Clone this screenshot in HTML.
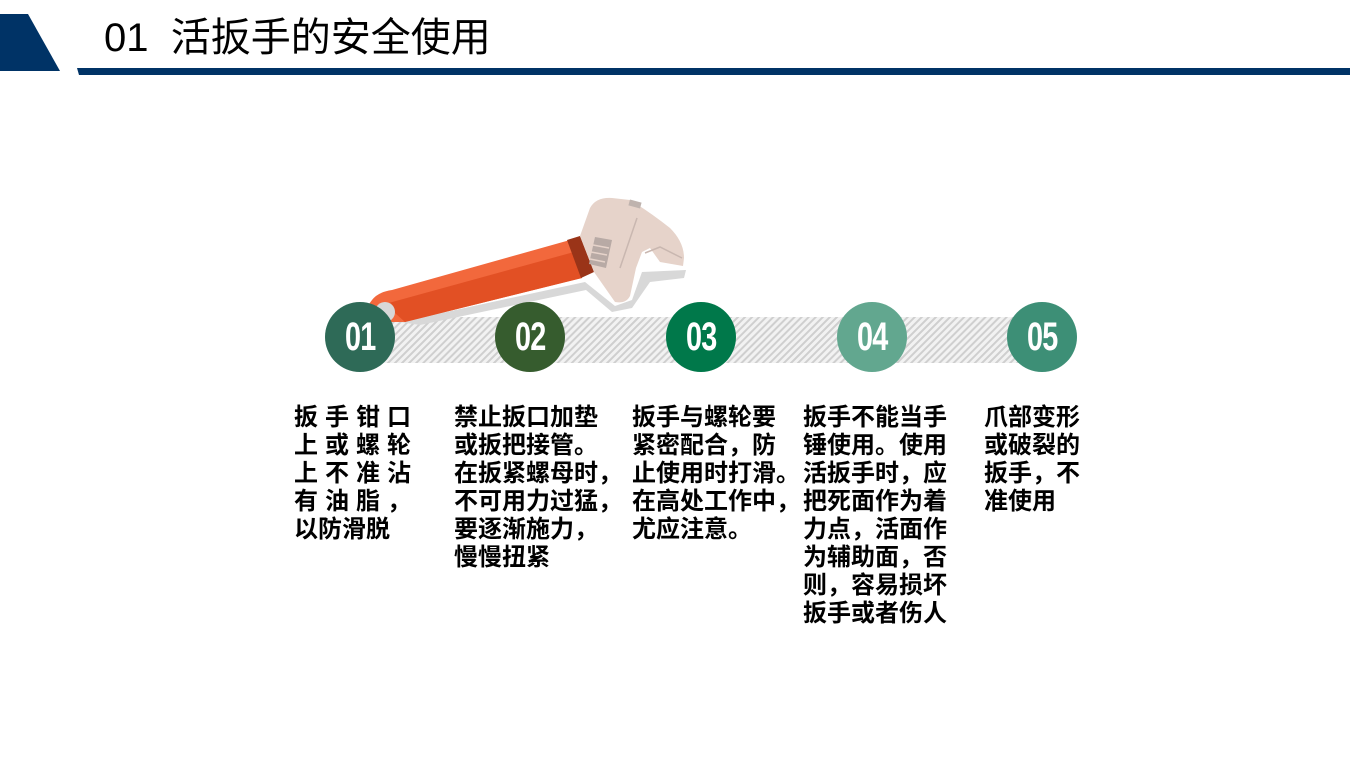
<!DOCTYPE html>
<html><head><meta charset="utf-8"><style>
body{margin:0;width:1350px;height:759px;background:#fff;position:relative;overflow:hidden;font-family:"Liberation Sans","Noto Sans CJK SC",sans-serif}
.t{position:absolute;font-size:24px;line-height:28px;font-weight:bold;color:#000;white-space:nowrap;top:404px}
.c{position:absolute;width:70px;height:70px;border-radius:50%;color:#fff;text-align:center;top:302px}
.c span{display:inline-block;font:bold 40px/70px "Liberation Sans",sans-serif;transform:scaleX(0.72);letter-spacing:-1px}
</style></head><body>
<svg width="1350" height="759" style="position:absolute;left:0;top:0">
<defs><pattern id="st" width="5" height="5" patternUnits="userSpaceOnUse" patternTransform="rotate(45)"><rect width="5" height="5" fill="#f2f2f2"/><rect width="2" height="5" fill="#cfcfcf"/></pattern></defs>
<polygon points="0,14 28,14 60,71 0,71" fill="#003366"/>
<polygon points="77,68 1350,68 1350,75 79,75" fill="#003366"/>
<rect x="360" y="317" width="685" height="46" fill="url(#st)"/>
<!-- wrench shadow -->
<polygon points="400,322 585,282 615,306 632,300 642,272 686,270 684,278 650,282 632,308 612,312 586,290 420,325" fill="#d8d8d8"/>
<!-- handle -->
<path d="M372,300 Q378,292 392,290 L570,240 L582,278 L405,322 L368,322 Q362,312 372,300Z" fill="#f2683c"/>
<path d="M385,304 L574,252 L582,278 L405,322 Z" fill="#e25024"/>
<circle cx="385" cy="312" r="10" fill="#d8d8d8"/>
<polygon points="567,240 580,236 594,272 581,278" fill="#9a3418"/>
<!-- head -->
<path d="M580,236 L590,208 Q596,197 612,198 L630,200 Q650,212 670,228 Q684,242 684,258 L683,266 L660,262 L650,248 L642,252 L636,268 L630,296 Q626,304 615,302 L594,272Z" fill="#e6d3ca"/>
<rect x="629" y="201" width="12" height="6" fill="#bfb3ae" transform="rotate(15 635 204)"/>
<polygon points="595,237 612,240 606,268 589,264" fill="#b8aaa5"/>
<g stroke="#e6d3ca" stroke-width="1.5"><line x1="593" y1="245" x2="609" y2="248"/><line x1="591" y1="252" x2="607" y2="255"/><line x1="590" y1="259" x2="605" y2="262"/></g>
<line x1="637" y1="218" x2="620" y2="268" stroke="#c9b7b0" stroke-width="1.5"/>
<polyline points="645,253 660,247 682,258" fill="none" stroke="#c9b7b0" stroke-width="1.5"/>
</svg>
<div style="position:absolute;left:104px;top:15px;font-size:40px;line-height:46px;color:#000">01&nbsp; 活扳手的安全使用</div>
<div class="c" style="left:325px;background:#2e6a57"><span>01</span></div>
<div class="c" style="left:495px;background:#365c2e"><span>02</span></div>
<div class="c" style="left:666px;background:#00784a"><span>03</span></div>
<div class="c" style="left:837px;background:#62a78f"><span>04</span></div>
<div class="c" style="left:1007px;background:#3d8f76"><span>05</span></div>
<div class="t" style="left:294px;letter-spacing:7px">扳手钳口<br>上或螺轮<br>上不准沾<br>有油脂，<br><span style="letter-spacing:0">以防滑脱</span></div>
<div class="t" style="left:454px">禁止扳口加垫<br>或扳把接管。<br>在扳紧螺母时，<br>不可用力过猛，<br>要逐渐施力，<br>慢慢扭紧</div>
<div class="t" style="left:632px">扳手与螺轮要<br>紧密配合，防<br>止使用时打滑。<br>在高处工作中，<br>尤应注意。</div>
<div class="t" style="left:803px">扳手不能当手<br>锤使用。使用<br>活扳手时，应<br>把死面作为着<br>力点，活面作<br>为辅助面，否<br>则，容易损坏<br>扳手或者伤人</div>
<div class="t" style="left:984px">爪部变形<br>或破裂的<br>扳手，不<br>准使用</div>
</body></html>
